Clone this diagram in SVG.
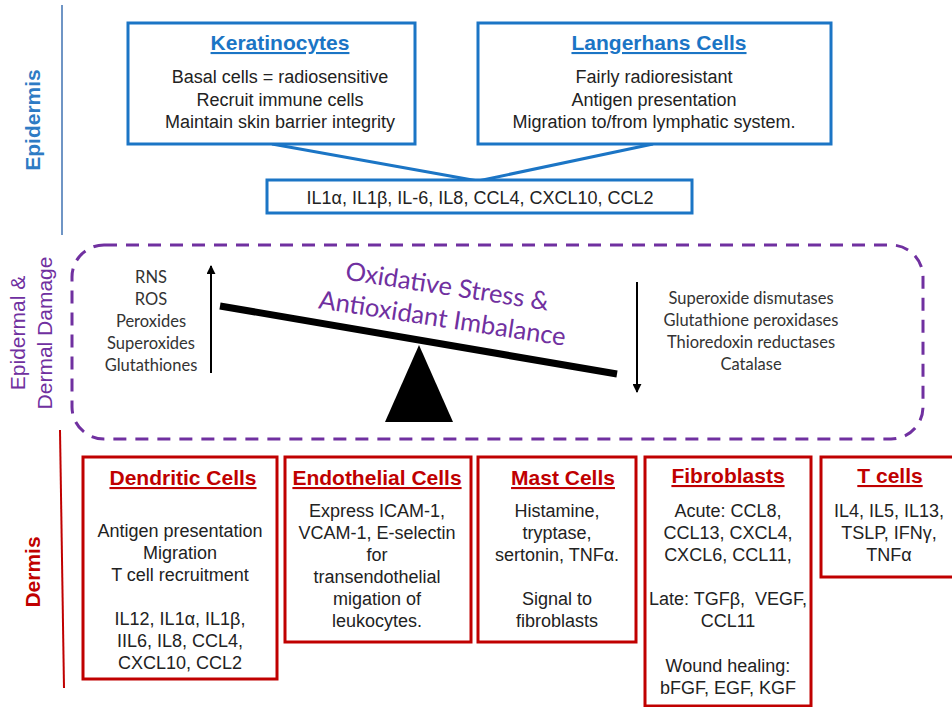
<svg xmlns="http://www.w3.org/2000/svg" width="952" height="707" viewBox="0 0 952 707">
<defs>
<style>
.bbox{fill:#fff;stroke:#1b75c5;stroke-width:3}
.rbox{fill:#fff;stroke:#c00000;stroke-width:3}
.btitle{font-family:"Liberation Sans",Arial,sans-serif;font-weight:bold;font-size:21px;fill:#1b75c5;text-anchor:middle;text-decoration:underline}
.rtitle{font-family:"Liberation Sans",Arial,sans-serif;font-weight:bold;font-size:21px;fill:#c00000;text-anchor:middle;text-decoration:underline}
.body{font-family:"Liberation Sans",Arial,sans-serif;font-size:18px;fill:#222;text-anchor:middle;white-space:pre}
.cal{font-family:Lato,"Open Sans",sans-serif;font-size:16.5px;fill:#333;text-anchor:middle}
.ox{font-family:Lato,"Open Sans",sans-serif;font-size:25.5px;fill:#7030a0;text-anchor:middle}
.conn{stroke:#1b75c5;stroke-width:3;fill:none}
</style>
<marker id="ah" viewBox="0 0 10 10" refX="9" refY="5" markerWidth="4.5" markerHeight="4.5" orient="auto-start-reverse">
<path d="M0,0 L10,5 L0,10 z" fill="#000"/>
</marker>
</defs>
<rect width="952" height="707" fill="#fff"/>

<g id="section-labels">
<line x1="62" y1="5" x2="62" y2="235" stroke="#6f95c5" stroke-width="2"/>
<text transform="translate(40,120) rotate(-90)" font-family="Liberation Sans,Arial,sans-serif" font-weight="bold" font-size="21" fill="#2e7bc4" text-anchor="middle">Epidermis</text>
<text transform="translate(25,333) rotate(-90)" font-family="Liberation Sans,Arial,sans-serif" font-size="21" fill="#7030a0" text-anchor="middle">Epidermal &amp;</text>
<text transform="translate(52,333) rotate(-90)" font-family="Liberation Sans,Arial,sans-serif" font-size="21" fill="#7030a0" text-anchor="middle">Dermal Damage</text>
<line x1="60" y1="430" x2="64" y2="688" stroke="#c00000" stroke-width="2"/>
<text transform="translate(40,572) rotate(-90)" font-family="Liberation Sans,Arial,sans-serif" font-weight="bold" font-size="21" fill="#c00000" text-anchor="middle">Dermis</text>
</g>

<g id="connectors">
<line class="conn" x1="272" y1="144" x2="478" y2="181"/>
<line class="conn" x1="653" y1="144" x2="478" y2="181"/>
</g>

<g id="keratinocytes">
<rect class="bbox" x="128" y="23" width="287" height="121"/>
<text class="btitle" x="280" y="50">Keratinocytes</text>
<text class="body" x="280" y="83">Basal cells = radiosensitive</text>
<text class="body" x="280" y="106">Recruit immune cells</text>
<text class="body" x="280" y="128">Maintain skin barrier integrity</text>
</g>

<g id="langerhans">
<rect class="bbox" x="478" y="23" width="353" height="121"/>
<text class="btitle" x="659" y="50">Langerhans Cells</text>
<text class="body" x="654" y="83">Fairly radioresistant</text>
<text class="body" x="654" y="106">Antigen presentation</text>
<text class="body" x="654" y="128">Migration to/from lymphatic system.</text>
</g>

<g id="cytokines">
<rect class="bbox" x="267" y="180" width="425" height="33"/>
<text class="body" x="480" y="204">IL1α, IL1β, IL-6, IL8, CCL4, CXCL10, CCL2</text>
</g>

<g id="oxidative-stress">
<rect x="72" y="245" width="851" height="194" rx="32" ry="32" fill="none" stroke="#7030a0" stroke-width="3" stroke-dasharray="13 9"/>
<text class="cal" x="151" y="283">RNS</text>
<text class="cal" x="151" y="305">ROS</text>
<text class="cal" x="151" y="327">Peroxides</text>
<text class="cal" x="151" y="349">Superoxides</text>
<text class="cal" x="151" y="371">Glutathiones</text>
<line x1="211" y1="373" x2="211" y2="266" stroke="#000" stroke-width="2" marker-end="url(#ah)"/>
<line x1="637" y1="282" x2="637" y2="392" stroke="#000" stroke-width="2" marker-end="url(#ah)"/>
<line x1="220" y1="306" x2="617" y2="374" stroke="#000" stroke-width="7"/>
<polygon points="419,345 385,422 453,422" fill="#000"/>
<text class="ox" transform="rotate(8.7 446 295)" x="446" y="295">Oxidative Stress &amp;</text>
<text class="ox" transform="rotate(8.7 441 327)" x="441" y="327">Antioxidant Imbalance</text>
<text class="cal" x="751" y="304">Superoxide dismutases</text>
<text class="cal" x="751" y="326">Glutathione peroxidases</text>
<text class="cal" x="751" y="348">Thioredoxin reductases</text>
<text class="cal" x="751" y="370">Catalase</text>
</g>

<g id="dendritic">
<rect class="rbox" x="83" y="457" width="194" height="222"/>
<text class="rtitle" x="183" y="485">Dendritic Cells</text>
<text class="body" x="180" y="537">Antigen presentation</text>
<text class="body" x="180" y="559">Migration</text>
<text class="body" x="180" y="581">T cell recruitment</text>
<text class="body" x="180" y="625">IL12, IL1α, IL1β,</text>
<text class="body" x="180" y="647">IIL6, IL8, CCL4,</text>
<text class="body" x="180" y="669">CXCL10, CCL2</text>
</g>

<g id="endothelial">
<rect class="rbox" x="285" y="457" width="186" height="185"/>
<text class="rtitle" x="377" y="485">Endothelial Cells</text>
<text class="body" x="377" y="517">Express ICAM-1,</text>
<text class="body" x="377" y="539">VCAM-1, E-selectin</text>
<text class="body" x="377" y="561">for</text>
<text class="body" x="377" y="583">transendothelial</text>
<text class="body" x="377" y="605">migation of</text>
<text class="body" x="377" y="627">leukocytes.</text>
</g>

<g id="mast">
<rect class="rbox" x="478" y="457" width="158" height="185"/>
<text class="rtitle" x="563" y="485">Mast Cells</text>
<text class="body" x="557" y="517">Histamine,</text>
<text class="body" x="557" y="539">tryptase,</text>
<text class="body" x="557" y="561">sertonin, TNFα.</text>
<text class="body" x="557" y="605">Signal to</text>
<text class="body" x="557" y="627">fibroblasts</text>
</g>

<g id="fibroblasts">
<rect class="rbox" x="645" y="457" width="166" height="249"/>
<text class="rtitle" x="728" y="483">Fibroblasts</text>
<text class="body" x="728" y="517">Acute: CCL8,</text>
<text class="body" x="728" y="539">CCL13, CXCL4,</text>
<text class="body" x="728" y="561">CXCL6, CCL11,</text>
<text class="body" x="728" y="605">Late: TGFβ,  VEGF,</text>
<text class="body" x="728" y="627">CCL11</text>
<text class="body" x="728" y="672">Wound healing:</text>
<text class="body" x="728" y="694">bFGF, EGF, KGF</text>
</g>

<g id="tcells">
<rect class="rbox" x="821" y="457" width="140" height="120"/>
<text class="rtitle" x="890" y="483">T cells</text>
<text class="body" x="889" y="517">IL4, IL5, IL13,</text>
<text class="body" x="889" y="539">TSLP, IFNγ,</text>
<text class="body" x="889" y="561">TNFα</text>
</g>
</svg>
